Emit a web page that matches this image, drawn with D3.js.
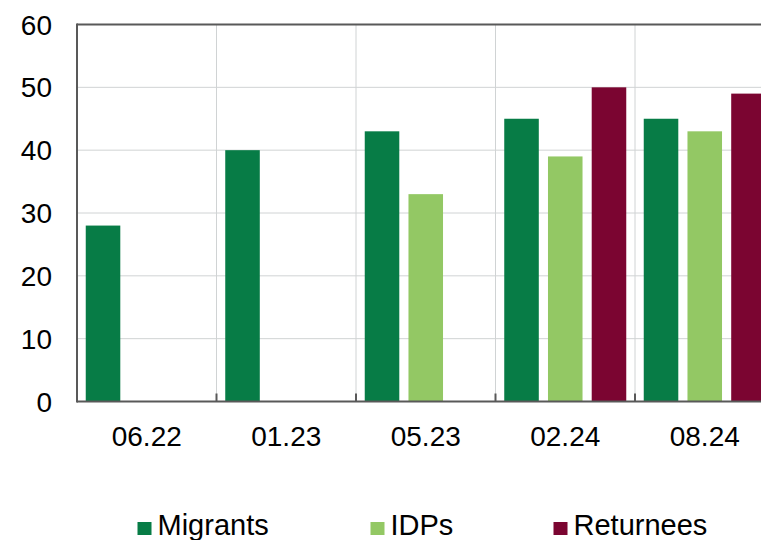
<!DOCTYPE html>
<html>
<head>
<meta charset="utf-8">
<script src="https://cdn.jsdelivr.net/npm/d3@7"></script>
<style>
  html, body { margin: 0; padding: 0; background: #fff; overflow: hidden; }
  svg { display: block; font-family: "Liberation Sans", Arial, sans-serif; }
</style>
</head>
<body>
<svg id="chart" width="761" height="540"></svg>
<script>
const categories = ["06.22", "01.23", "05.23", "02.24", "08.24"];
const seriesNames = ["Migrants", "IDPs", "Returnees"];
const migrants = [28, 40, 43, 45, 45];
const idps = [null, null, 33, 39, 43];
const returnees = [null, null, null, 50, 49];
const yTicks = [0, 10, 20, 30, 40, 50, 60];
const colors = ["#077C46", "#93C864", "#7B0531"];

(function () {
const seriesValues = [migrants, idps, returnees];
const svg = d3.select("#chart");

const pLeft = 77, pRight = 774.5, pTop = 24.5, pBottom = 401.5;

const x = d3.scaleBand().domain(categories).range([pLeft, pRight]).paddingInner(0).paddingOuter(0);
const xi = d3.scaleBand().domain(seriesNames).range([0, x.bandwidth()]).paddingInner(0.21).paddingOuter(0.2);
const y = d3.scaleLinear().domain([0, 60]).range([pBottom, pTop]);

// horizontal gridlines
svg.append("g").selectAll("line").data(yTicks.filter(d => d > 0 && d < 60)).join("line")
  .attr("x1", pLeft).attr("x2", pRight)
  .attr("y1", d => y(d)).attr("y2", d => y(d))
  .attr("stroke", "#D0D3D4").attr("stroke-width", 1);

// vertical gridlines at category boundaries
const bounds = categories.slice(1).map(c => x(c));
svg.append("g").selectAll("line").data(bounds).join("line")
  .attr("x1", d => d).attr("x2", d => d)
  .attr("y1", pTop).attr("y2", pBottom)
  .attr("stroke", "#D0D3D4").attr("stroke-width", 1);

// bars
const barData = [];
categories.forEach((c, i) => {
  seriesNames.forEach((s, j) => {
    const v = seriesValues[j][i];
    if (v != null) barData.push({ c, s, v, j });
  });
});
svg.append("g").selectAll("rect").data(barData).join("rect")
  .attr("x", d => x(d.c) + xi(d.s))
  .attr("width", xi.bandwidth())
  .attr("y", d => y(d.v))
  .attr("height", d => y(0) - y(d.v))
  .attr("fill", d => colors[d.j]);

// axes frame
svg.append("line").attr("x1", pLeft).attr("x2", pLeft).attr("y1", pTop - 1).attr("y2", pBottom + 1)
  .attr("stroke", "#595959").attr("stroke-width", 2);
svg.append("line").attr("x1", pLeft).attr("x2", pRight).attr("y1", pTop).attr("y2", pTop)
  .attr("stroke", "#595959").attr("stroke-width", 2);
svg.append("line").attr("x1", pLeft).attr("x2", pRight).attr("y1", pBottom).attr("y2", pBottom)
  .attr("stroke", "#595959").attr("stroke-width", 2);

// x ticks (inside, pointing up)
svg.append("g").selectAll("line").data(bounds).join("line")
  .attr("x1", d => d).attr("x2", d => d)
  .attr("y1", pBottom).attr("y2", pBottom - 8)
  .attr("stroke", "#595959").attr("stroke-width", 2);

// y tick labels
svg.append("g").selectAll("text").data(yTicks).join("text")
  .attr("x", 52).attr("y", d => y(d))
  .attr("dy", "0.36em")
  .attr("text-anchor", "end")
  .attr("font-size", 28).attr("fill", "#000")
  .text(d => d);

// x tick labels
svg.append("g").selectAll("text").data(categories).join("text")
  .attr("x", d => x(d) + x.bandwidth() / 2).attr("y", 446)
  .attr("text-anchor", "middle")
  .attr("font-size", 28).attr("fill", "#000")
  .text(d => d);

// legend
const legendX = [137.5, 370.5, 553.5];
const lg = svg.append("g").selectAll("g").data(seriesNames).join("g")
  .attr("transform", (d, i) => `translate(${legendX[i]},0)`);
lg.append("rect").attr("x", 0).attr("y", 522).attr("width", 14).attr("height", 13)
  .attr("fill", (d, i) => colors[i]);
lg.append("text").attr("x", 20).attr("y", 535)
  .attr("font-size", 29).attr("fill", "#000")
  .text(d => d);
})();
</script>
</body>
</html>
